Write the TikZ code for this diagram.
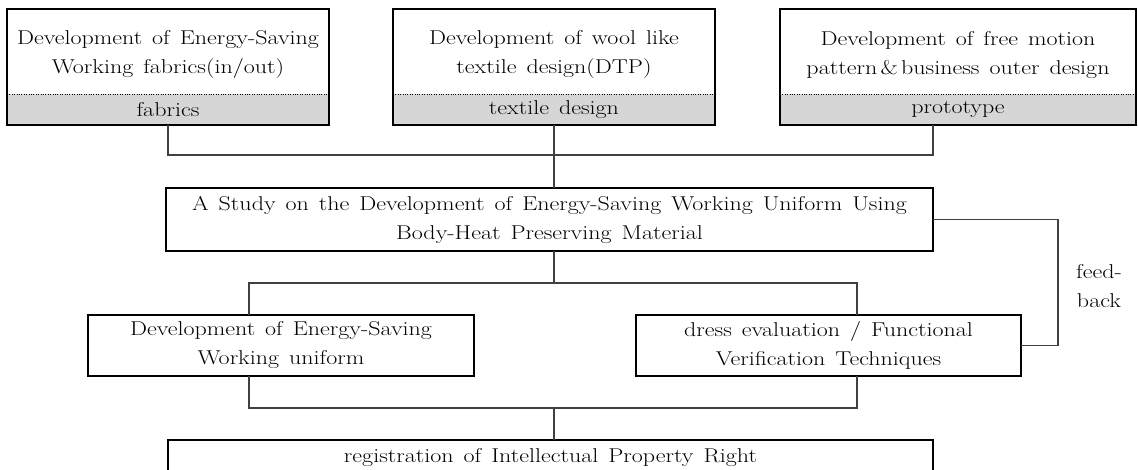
\documentclass[tikz,border=0pt]{standalone}
\usepackage{fontspec}
\setmainfont{Latin Modern Roman}[FakeStretch=1.2]
\usetikzlibrary{positioning}
\newcommand{\widesp}{\spaceskip=0.5em plus 0.1em\relax}
\tikzset{
	every node/.append style={
		font={\fontsize{20}{29}\selectfont\widesp},
		text=black,
		inner sep=0pt,
		outer sep=0pt,
	},
	layer/.append style={
		draw,
		line width=1.3pt,
		align = center,
	},
	headbox/.append style={
		align = center,
		minimum height=85pt,
	},
	band/.append style={
		fill=black!16,
		align = center,
		minimum height=31pt,
	},
	frame/.append style={
		line width=1.3pt,
	},
	link/.append style={
		draw=black!75,
		line width=1.3pt,
	},
}
\begin{document}
\begin{tikzpicture}[x=1pt, y=-1pt]
	\clip (0,0) rectangle (1138,470);
	
	% top row
	\node (devfab)[headbox, minimum width=322pt] at (168,51.5) {\strut Development of Energy-Saving\\Working fabrics(in/out)};
	\node (fab)[band, minimum width=322pt, below=0pt of devfab] {fabrics};
	\node (devtex)[headbox, minimum width=322pt] at (554,51.5) {\strut Development of wool like\\textile design(DTP)};
	\node (tex)[band, minimum width=322pt, below=0pt of devtex] {textile design};
	\node (devpro)[headbox, minimum width=356pt] at (958,51.5) {\strut Development of free motion\\pattern\,\&\,business outer design};
	\node (pro)[band, minimum width=356pt, below=0pt of devpro] {prototype};
	
	\draw[frame] (devfab.north west) rectangle (fab.south east);
	\draw[frame] (devtex.north west) rectangle (tex.south east);
	\draw[frame] (devpro.north west) rectangle (pro.south east);
	\draw[dotted] (fab.north west) -- (fab.north east);
	\draw[dotted] (tex.north west) -- (tex.north east);
	\draw[dotted] (pro.north west) -- (pro.north east);
	
	% study
	\node (study)[layer, minimum width=767pt, minimum height=63pt] at (549.5,219.5) {A Study on the Development of Energy-Saving Working Uniform Using\\Body-Heat Preserving Material};
	
	\coordinate (topbus) at (554,155);
	\draw[link] (fab.south) |- (topbus) -| (study.east |- pro.south);
	\draw[link] (tex.south) -- (tex.south |- study.north);
	
	% second row
	\node (uniform)[layer, minimum width=386pt, minimum height=61pt] at (281,345.5) {Development of Energy-Saving\\Working uniform};
	\node (dress)[layer, minimum width=385pt, minimum height=61pt] at (828.5,345.5) {dress evaluation / Functional\\Verification Techniques};
	
	\coordinate (midbusL) at (249,283);
	\coordinate (midbusR) at (857,283);
	\draw[link] (tex.south |- study.south) -- (tex.south |- midbusL);
	\draw[link] (midbusL |- uniform.north) -- (midbusL) -- (midbusR) -- (midbusR |- dress.north);
	
	\coordinate (lowbusL) at (249,408);
	\coordinate (lowbusR) at (857,408);
	\draw[link] (lowbusL |- uniform.south) -- (lowbusL) -- (lowbusR) -- (lowbusR |- dress.south);
	
	% feedback
	\coordinate (fbturn) at (1058,0);
	\draw[link] (study.east) -- (study.east -| fbturn) |- (dress.east);
	\node (fbtext)[align=center] at (1099,286) {feed-\\back};
	
	% registration
	\node (reg)[layer, minimum width=765pt, minimum height=60pt, anchor=north] at (550.5,440) {registration of Intellectual Property Right\\\mbox{}};
	\draw[link] (tex.south |- lowbusL) -- (tex.south |- reg.north);
	
\end{tikzpicture}
\end{document}
